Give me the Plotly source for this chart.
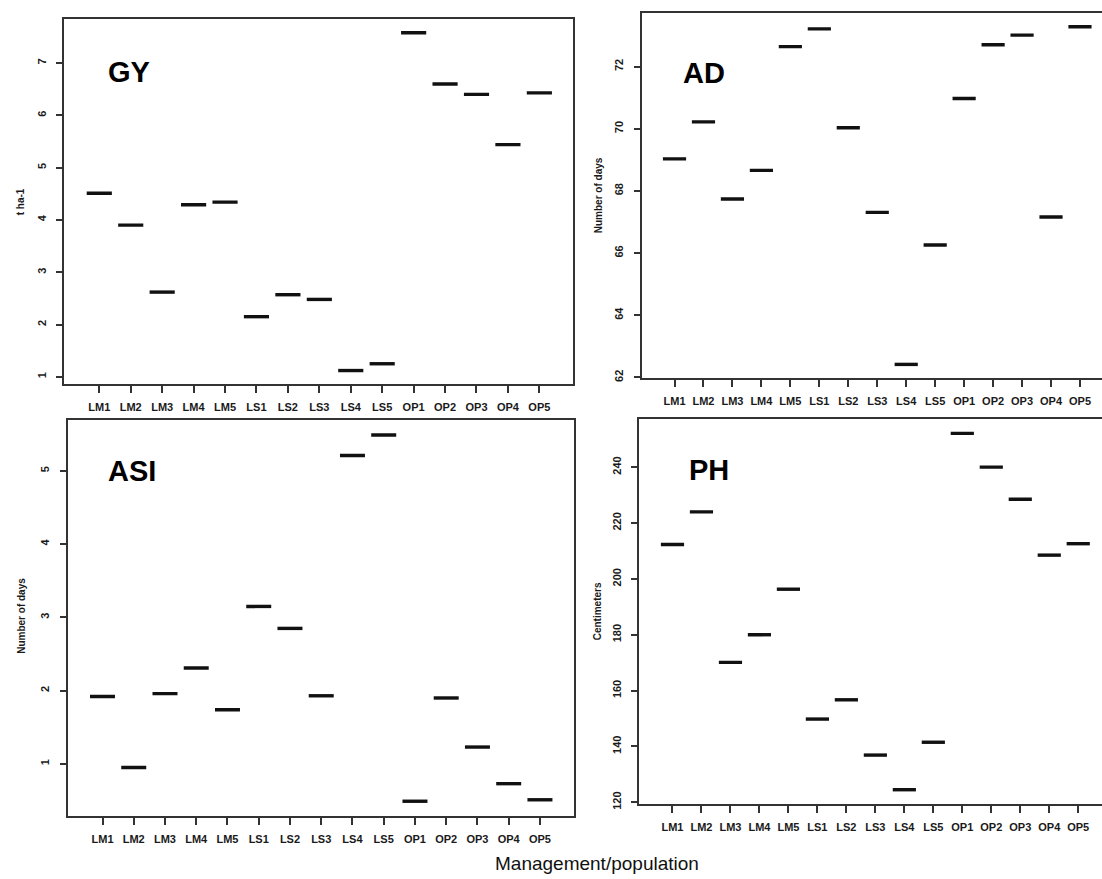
import plotly.graph_objects as go

W, H = 1102, 879

categories = ["LM1", "LM2", "LM3", "LM4", "LM5", "LS1", "LS2", "LS3", "LS4", "LS5",
              "OP1", "OP2", "OP3", "OP4", "OP5"]

gy_values = [4.51, 3.90, 2.62, 4.29, 4.34, 2.15, 2.57, 2.48, 1.12, 1.25,
             7.58, 6.60, 6.40, 5.44, 6.43]
ad_values = [69.03, 70.22, 67.74, 68.66, 72.64, 73.21, 70.03, 67.31, 62.42, 66.26,
             70.97, 72.70, 73.01, 67.16, 73.28]
asi_values = [1.92, 0.95, 1.96, 2.31, 1.74, 3.15, 2.85, 1.93, 5.21, 5.49,
              0.49, 1.90, 1.23, 0.73, 0.51]
ph_values = [212.3, 224.0, 170.1, 180.0, 196.3, 149.8, 156.7, 136.9, 124.5, 141.5,
             252.1, 240.0, 228.5, 208.5, 212.6]

gy_ticks = [1, 2, 3, 4, 5, 6, 7]
ad_ticks = [62, 64, 66, 68, 70, 72]
asi_ticks = [1, 2, 3, 4, 5]
ph_ticks = [120, 140, 160, 180, 200, 220, 240]

panel_names = ["GY", "AD", "ASI", "PH"]
y_titles = ["t ha-1", "Number of days", "Number of days", "Centimeters"]
x_title = "Management/population"

# pixel boxes of each plot area: (left, right, top, bottom)
boxes = [(64, 573.3, 19.3, 386.7),
         (641.7, W, 13.3, 380.5),
         (67.5, 574, 423.3, 821.5),
         (639.3, W, 422, 809.5)]
xranges = [[-0.123, 16.08], [-0.133, 15.76], [-0.12, 16.09], [-0.145, 15.82]]
label_pos = [(106, 72.5), (681, 73), (106, 474), (687, 473)]
ytitle_pos = [(20.7, 203), (598.6, 197), (22, 620), (597.5, 616)]

series = [gy_values, ad_values, asi_values, ph_values]
ticks = [gy_ticks, ad_ticks, asi_ticks, ph_ticks]

FONT = "Liberation Sans, Arial, sans-serif"
AX = "#333333"

fig = go.Figure()
layout = dict(width=W, height=H, margin=dict(l=0, r=0, t=0, b=0),
              paper_bgcolor="white", plot_bgcolor="white", showlegend=False,
              annotations=[])

half = 0.4
positions = list(range(1, len(categories) + 1))
for k, vals in enumerate(series):
    xs, ys = [], []
    for p, v in zip(positions, vals):
        xs += [p - half, p + half, None]
        ys += [v, v, None]
    xa = "x" if k == 0 else f"x{k+1}"
    ya = "y" if k == 0 else f"y{k+1}"
    fig.add_trace(go.Scatter(x=xs, y=ys, mode="lines", xaxis=xa, yaxis=ya,
                             line=dict(color="#111111", width=3.4),
                             hoverinfo="skip"))
    l, r, t, b = boxes[k]
    lo, hi = min(vals), max(vals)
    pad = 0.04 * (hi - lo)
    right_edge = (k % 2 == 0)
    xkey = "xaxis" if k == 0 else f"xaxis{k+1}"
    ykey = "yaxis" if k == 0 else f"yaxis{k+1}"
    layout[xkey] = dict(domain=[l / W, min(r / W, 1.0)], anchor=ya,
                        range=xranges[k], tickmode="array", tickvals=positions,
                        ticktext=categories, showgrid=False, zeroline=False,
                        showline=True, linecolor=AX, linewidth=2, mirror=True,
                        ticks="outside", ticklen=7, tickwidth=1.5, tickcolor=AX,
                        tickfont=dict(family=FONT, size=11, color="#1a1a1a", weight="bold"),
                        ticklabelstandoff=5, tickangle=0)
    layout[ykey] = dict(domain=[1 - b / H, 1 - t / H], anchor=xa,
                        range=[lo - pad, hi + pad], tickmode="array", tickvals=ticks[k],
                        showgrid=False, zeroline=False,
                        showline=True, linecolor=AX, linewidth=2,
                        mirror=True if right_edge else False,
                        ticks="outside", ticklen=6, tickwidth=1.5, tickcolor=AX,
                        tickangle=-90,
                        tickfont=dict(family=FONT, size=11, color="#1a1a1a", weight="bold"),
                        ticklabelstandoff=6)
    lx, ly = label_pos[k]
    layout["annotations"].append(dict(text=panel_names[k], xref="paper", yref="paper",
                                      x=lx / W, y=1 - ly / H, xanchor="left", yanchor="middle",
                                      showarrow=False,
                                      font=dict(family=FONT, size=29, color="#000000", weight="bold")))
    tx, ty = ytitle_pos[k]
    layout["annotations"].append(dict(text=y_titles[k], xref="paper", yref="paper",
                                      x=tx / W, y=1 - ty / H, xanchor="center", yanchor="middle",
                                      textangle=-90, showarrow=False,
                                      font=dict(family=FONT, size=10, color="#1a1a1a", weight="bold")))

layout["annotations"].append(dict(text=x_title, xref="paper", yref="paper",
                                  x=597 / W, y=1 - 869 / H, xanchor="center", yanchor="middle",
                                  showarrow=False,
                                  font=dict(family=FONT, size=19, color="#111111")))

fig.update_layout(**layout)
fig.write_html("out.html", config={"displayModeBar": False},
               post_script="document.body.style.margin='0';document.body.style.padding='0';"
                           "document.documentElement.style.overflow='hidden';")
